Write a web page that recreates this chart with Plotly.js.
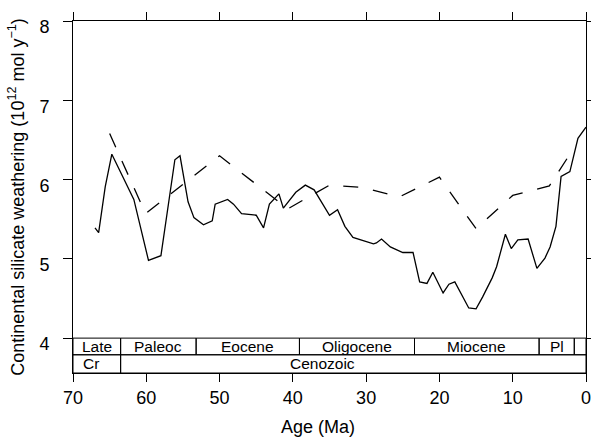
<!DOCTYPE html>
<html>
<head>
<meta charset="utf-8">
<script src="https://cdn.plot.ly/plotly-3.0.1.min.js"></script>
<style>html,body{margin:0;padding:0;background:#fff}#chart{width:591px;height:440px}</style>
</head>
<body>
<div id="chart"></div>
<script>
// Solid curve (age Ma, weathering 10^12 mol/y)
const solidAge = [67.0,66.5,65.6,64.7,61.7,59.7,58.0,56.1,55.4,54.3,53.5,52.2,51.0,50.6,48.9,48.1,47.0,45.0,44.0,43.2,41.9,41.3,39.6,38.3,37.1,35.0,33.9,32.9,31.8,29.0,28.6,27.9,26.7,25.0,23.6,22.7,21.7,20.9,19.5,18.7,17.9,16.0,15.0,14.1,12.8,12.2,11.0,10.2,9.3,7.9,6.7,5.6,4.9,4.1,3.4,2.2,1.1,0.0];
const solidVal = [5.39,5.33,5.91,6.32,5.75,4.98,5.04,6.25,6.30,5.72,5.52,5.43,5.48,5.69,5.75,5.69,5.57,5.55,5.39,5.69,5.82,5.64,5.84,5.93,5.87,5.55,5.62,5.41,5.27,5.19,5.20,5.25,5.15,5.08,5.08,4.71,4.69,4.83,4.57,4.68,4.71,4.38,4.37,4.52,4.76,4.90,5.31,5.13,5.24,5.25,4.88,5.01,5.15,5.41,6.04,6.10,6.52,6.66];
// Dashed curve
const dashAge = [65.0,60.1,50.0,40.7,35.0,30.5,25.5,20.0,15.0,10.0,5.0,1.5];
const dashVal = [6.58,5.57,6.30,5.63,5.93,5.90,5.78,6.03,5.38,5.80,5.92,6.42];
// Geologic time scale boxes
const epochEdges = [70,63.5,53.2,39.1,23.4,6.4,1.6,0];
const epochLabels = ['Late','Paleoc','Eocene','Oligocene','Miocene','Pl',''];
const eraEdges = [70,63.5,0];
const eraLabels = ['Cr','Cenozoic'];
const eraLabelAt = [67.5,36];
const xTicks = [70,60,50,40,30,20,10,0];
const yTicks = [4,5,6,7,8];
const xTitle = 'Age (Ma)';
const yTitle = 'Continental silicate weathering (10<sup>12</sup> mol y<sup>\u22121</sup>)';

const F = 'Liberation Sans, Arial, sans-serif';
const rowTop = 4.0, rowMid = 3.79, rowBot = 3.56;
const shapes = [];
const annotations = [];
for (let i = 0; i < epochLabels.length; i++) {
  shapes.push({type:'rect', xref:'x', yref:'y', x0:epochEdges[i], x1:epochEdges[i+1], y0:rowMid, y1:rowTop, line:{color:'black', width:1}});
  if (epochLabels[i]) annotations.push({xref:'x', yref:'y', x:(epochEdges[i]+epochEdges[i+1])/2, y:(rowMid+rowTop)/2, text:epochLabels[i], showarrow:false, font:{family:F, size:15.5, color:'black'}, xanchor:'center', yanchor:'middle'});
}
for (let i = 0; i < eraLabels.length; i++) {
  shapes.push({type:'rect', xref:'x', yref:'y', x0:eraEdges[i], x1:eraEdges[i+1], y0:rowBot, y1:rowMid, line:{color:'black', width:1}});
  annotations.push({xref:'x', yref:'y', x:eraLabelAt[i], y:(rowBot+rowMid)/2, text:eraLabels[i], showarrow:false, font:{family:F, size:15.5, color:'black'}, xanchor:'center', yanchor:'middle'});
}
// x-axis title (slightly left of the plot centre, as in the reference)
annotations.push({xref:'x', yref:'paper', x:36.6, y:-0.152, text:xTitle, showarrow:false, font:{family:F, size:18, color:'black'}, xanchor:'center', yanchor:'middle'});

const traces = [
  {x:solidAge, y:solidVal, type:'scatter', mode:'lines', line:{color:'black', width:1.3}, hoverinfo:'skip'},
  {x:dashAge, y:dashVal, type:'scatter', mode:'lines', line:{color:'black', width:1.3, dash:'15px,15px'}, hoverinfo:'skip'}
];

const axisCommon = {showline:true, linecolor:'black', linewidth:1, mirror:'ticks', ticks:'outside', tickcolor:'black', tickwidth:1, showgrid:false, zeroline:false, tickfont:{family:F, size:18, color:'black'}, automargin:false, ticklabeloverflow:'allow'};

const layout = {
  width:591, height:440,
  margin:{l:73, r:5, t:21, b:67, pad:0},
  paper_bgcolor:'white', plot_bgcolor:'white',
  showlegend:false,
  xaxis: Object.assign({}, axisCommon, {range:[70,0], tickvals:xTicks, ticklen:8}),
  yaxis: Object.assign({}, axisCommon, {range:[3.56,8], tickvals:yTicks, ticklen:9, ticklabelstandoff:10, ticklabelshift:6, title:{text:yTitle, font:{family:F, size:18, color:'black'}, standoff:10}}),
  shapes:shapes,
  annotations:annotations
};

Plotly.newPlot('chart', traces, layout, {staticPlot:true, displayModeBar:false});
</script>
</body>
</html>
